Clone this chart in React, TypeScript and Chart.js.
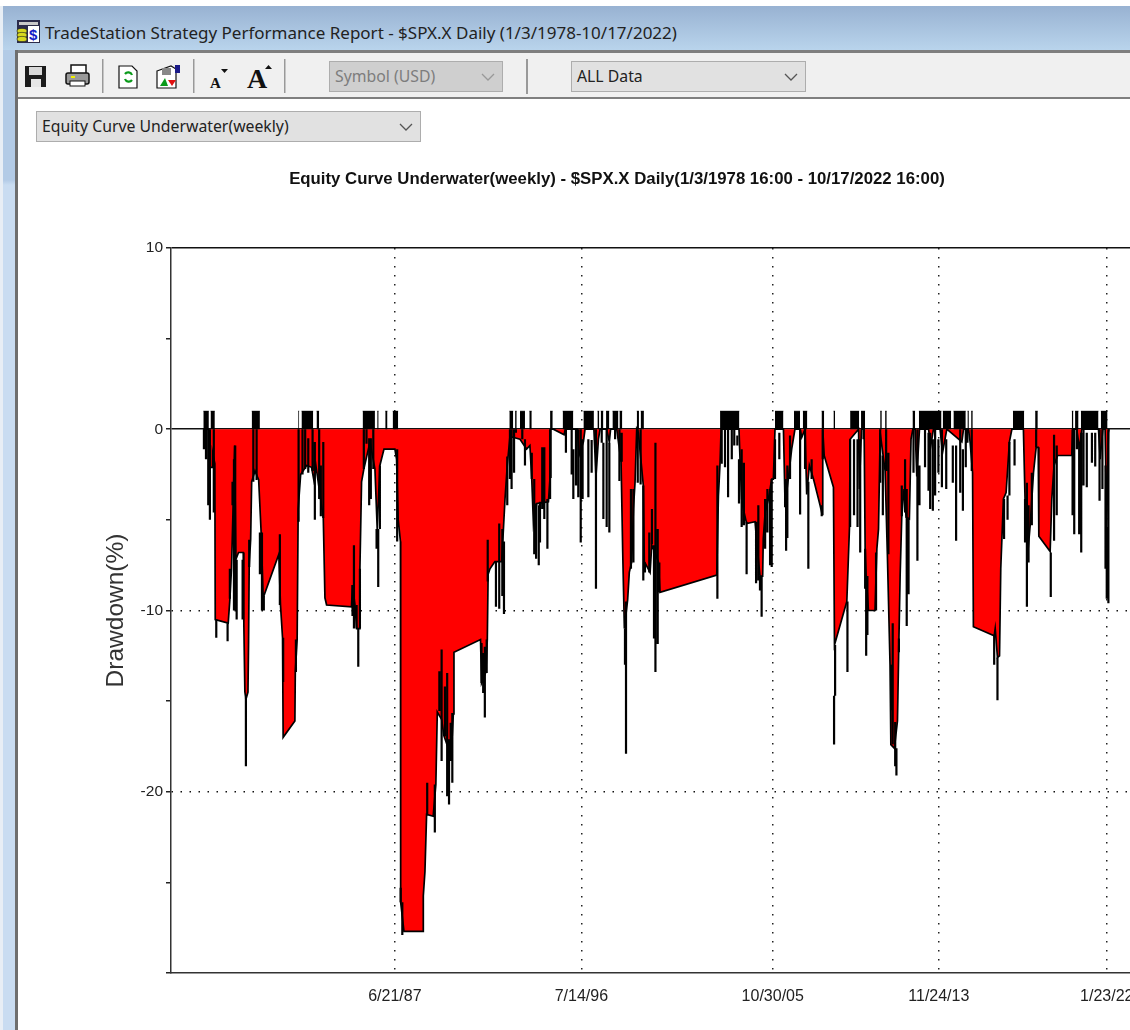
import React, { useEffect, useRef } from "react";
import { Chart, registerables } from "chart.js";

Chart.register(...registerables);

const chartTitle = "Equity Curve Underwater(weekly) - $SPX.X Daily(1/3/1978 16:00 - 10/17/2022 16:00)";
const windowTitle = "TradeStation Strategy Performance Report - $SPX.X Daily (1/3/1978-10/17/2022)";
const yAxisTitle = "Drawdown(%)";
const yLabelled = [10, 0, -10, -20];
const dateTickYears = [1987.47, 1996.53, 2005.83, 2013.9, 2022.06];
const dateTickLabels = ["6/21/87", "7/14/96", "10/30/05", "11/24/13", "1/23/22"];

// Outer envelope of the underwater curve: [year, drawdown %]
const envelope: [number, number][] = [
  [1978.16, 0], [1978.42, 0], [1978.45, -2.1], [1978.59, -2.1], [1978.61, -1.3], [1978.72, -1.9], [1978.74, -10.5],
  [1979.37, -10.7], [1979.45, -9.4], [1979.53, -7.7], [1979.61, -4.2], [1979.68, -0.9], [1979.74, -7.2], [1979.87, -6.8],
  [1980.1, -6.8], [1980.13, -10.8], [1980.18, -14.5], [1980.23, -14.9], [1980.33, -14.5], [1980.36, -11.7], [1980.39, -7.5],
  [1980.46, -6.1], [1980.51, -2.9], [1980.67, -2.3], [1980.85, -2.8], [1980.97, -5.7], [1981.07, -9.3], [1981.83, -6.9],
  [1981.91, -9.7], [1982.01, -11.5], [1982.04, -17], [1982.61, -16.1], [1982.63, -13.4], [1982.72, -11.6], [1982.77, -4.4],
  [1982.89, -2.5], [1983.18, -2], [1983.42, -2.1], [1983.53, -2.8], [1983.63, -2], [1983.99, -4.9], [1984.07, -9.3],
  [1984.15, -9.7], [1985.36, -9.8], [1985.41, -8.6], [1985.53, -9.7], [1985.61, -11], [1985.74, -11], [1985.77, -7.7],
  [1985.85, -2.9], [1985.96, -2.2], [1986.26, -0.7], [1986.5, -2.2], [1986.61, -5.5], [1986.74, -2], [1986.94, -1.1],
  [1987.47, -1.1], [1987.55, -1.65], [1987.63, -5], [1987.74, -6.2], [1987.75, -26.1], [1987.91, -27.7], [1988.85, -27.7],
  [1988.85, -25.75], [1988.93, -24.4], [1989.01, -21.25], [1989.33, -21.35], [1989.46, -19.6], [1989.53, -15.6],
  [1989.74, -16], [1989.85, -16.9], [1990.06, -17.6], [1990.22, -17.7], [1990.31, -15.7], [1990.34, -12.3], [1991.63, -11.6],
  [1991.68, -14], [1991.89, -13.4], [1991.96, -11.6], [1992, -8], [1992.09, -7.7], [1992.33, -7.3], [1992.66, -7.3],
  [1992.82, -3.85], [1992.93, -2], [1993.06, -0.4], [1993.55, -0.55], [1993.87, -1.1], [1994.03, -0.9], [1994.12, -2.75],
  [1994.2, -5.2], [1994.36, -4.1], [1994.93, -4], [1995.01, -2.65], [1995.05, 0], [1995.17, 0], [1995.69, -0.3], [1995.75, 0],
  [1996.33, 0], [1996.43, -1.4], [1996.63, -0.7], [1996.71, 0], [1997.14, 0], [1997.24, -2.6], [1997.36, -0.55], [1997.44, 0],
  [1997.76, 0], [1997.89, -0.7], [1997.95, 0], [1998.25, 0], [1998.46, -1.8], [1998.54, -6.8], [1998.62, -11], [1998.78, -9.4],
  [1998.86, -7.9], [1998.98, -7.3], [1999.06, -4.4], [1999.14, -2.9], [1999.22, 0], [1999.3, -0.2], [1999.54, -3.1],
  [1999.59, -7.3], [1999.87, -7.9], [1999.95, -6.4], [2000.03, -6.6], [2000.27, -7.3], [2000.35, -9], [2003.11, -8.05],
  [2003.19, -3.7], [2003.27, -1.85], [2003.32, 0], [2004.19, 0], [2004.24, -1.65], [2004.32, -3.85], [2004.4, -4.4],
  [2004.56, -5.2], [2004.97, -5.1], [2005.05, -6.2], [2005.21, -8.1], [2005.34, -8.1], [2005.37, -6.05], [2005.46, -4.6],
  [2005.62, -3.85], [2005.78, -2.75], [2005.86, -2.75], [2005.94, 0], [2006.35, 0], [2006.43, -4.2], [2006.6, -2.6],
  [2006.75, -1.1], [2006.91, 0], [2007.16, 0], [2007.24, -0.45], [2007.4, 0], [2007.48, -3.6], [2007.61, -2], [2007.81, -2.75],
  [2008.13, -4.2], [2008.23, -4.7], [2008.26, 0], [2008.33, -1.45], [2008.78, -3.2], [2008.83, -11.9], [2009.43, -9.5],
  [2009.56, -5.4], [2009.59, -0.55], [2010, 0], [2010.04, -3.3], [2010.14, 0], [2010.27, 0], [2010.32, -6.6], [2010.37, -8.1],
  [2010.48, -10], [2010.8, -10], [2010.89, -6.6], [2010.97, -5.5], [2011.05, -0.2], [2011.29, -2.3], [2011.4, -6.9],
  [2011.53, -13], [2011.57, -17.4], [2011.74, -17.6], [2011.89, -16.1], [2011.95, -12.3], [2012.02, -8.1], [2012.1, -4.8],
  [2012.21, -3.3], [2012.31, -4.85], [2012.47, -4.95], [2012.55, -0.55], [2012.64, 0], [2012.75, 0], [2012.83, -2.6],
  [2012.96, 0], [2013.4, 0], [2013.51, -0.9], [2013.64, 0], [2013.96, 0], [2014.08, -1.3], [2014.29, 0], [2015.02, -0.7],
  [2015.1, 0], [2015.34, 0], [2015.42, -0.7], [2015.54, -2.4], [2015.58, -10.9], [2016.59, -11.4], [2016.64, -11], [2016.75, -12.6],
  [2016.85, -12.5], [2016.91, -7.7], [2017.04, -3.85], [2017.17, -3.5], [2017.33, -0.7], [2017.45, 0], [2018.01, 0],
  [2018.09, -3.85], [2018.21, -7], [2018.34, -5.3], [2018.5, -2.4], [2018.63, -1], [2018.73, -1], [2018.76, -5.9],
  [2019.31, -6.75], [2019.39, -3.85], [2019.5, -2], [2019.67, -1.45], [2020.36, -1.45], [2020.41, 0], [2020.6, 0],
  [2020.74, -1.1], [2020.85, 0], [2021.66, 0], [2021.74, -1.65], [2021.87, 0], [2021.98, 0], [2022.06, -5.4], [2022.14, -0.2], [2022.17, 0],
];

// Weeks at a new equity high, drawn up to +1: [first year, last year]
const newHighTop = 1;
const newHighSpans: [number, number][] = [
  [1978.16, 1978.43], [1978.51, 1978.72], [1980.51, 1980.91], [1982.77, 1982.82], [1982.93, 1983.5], [1983.66, 1983.79],
  [1985.9, 1986.5], [1986.61, 1986.68], [1987, 1987.11], [1987.36, 1987.63], [1993.03, 1993.22], [1993.31, 1993.39],
  [1993.55, 1993.79], [1994, 1994.12], [1995.01, 1995.14], [1995.62, 1996.14], [1996.63, 1997.14], [1997.31, 1997.4],
  [1997.47, 1997.6], [1997.73, 1997.89], [1998.04, 1998.33], [1998.38, 1998.52], [1999.22, 1999.33], [1999.41, 1999.57],
  [2003.27, 2004.21], [2005.94, 2006.35], [2006.86, 2007.16], [2007.29, 2007.51], [2008.2, 2008.33], [2008.78, 2008.86],
  [2009.59, 2010.03], [2010.12, 2010.32], [2011.05, 2011.13], [2011.29, 2011.37], [2012.62, 2012.75], [2012.93, 2014.03],
  [2014.09, 2014.5], [2014.61, 2015.21], [2015.29, 2015.36], [2015.47, 2015.55], [2017.5, 2018.05], [2018.58, 2018.71],
  [2020.36, 2020.44], [2020.52, 2020.69], [2020.8, 2021.66], [2021.77, 2022.1],
];

// Weekly excursions: [year, upper %, lower %]
const excursions: [number, number, number][] = [
  [1978.19, 0, -1.1], [1978.29, 0, -1.65], [1978.4, 0, -4.2], [1978.48, 0, -5], [1978.67, 0, -4.6], [1978.79, -10.5, -11.5],
  [1979.34, -10.7, -11.7], [1979.45, -7.7, -9.35], [1979.58, -2.9, -4.2], [1979.65, -1.65, -10], [1979.71, -0.9, -10],
  [1979.78, -7.2, -10.5], [1980.07, -7.2, -10.5], [1980.23, -14.8, -18.6], [1980.39, -6.1, -7.6], [1980.59, 0, -2.9],
  [1980.75, 0, -2.8], [1980.91, -5.7, -8], [1981.01, -5.7, -10], [1981.1, -9.2, -10], [1981.88, -5.8, -9.7],
  [1982.04, -11.5, -13.95], [1982.66, -11.6, -13.4], [1982.79, 0, -5.1], [1982.98, 0, -2.5], [1983.11, 0, -2.2],
  [1983.26, -0.5, -2.4], [1983.47, 0, -2.3], [1983.58, -0.7, -5], [1983.79, 0, -3.85], [1983.87, -2, -4.8], [1983.99, -0.7, -4.9],
  [1985.41, -8.6, -10.3], [1985.48, -6.4, -11], [1985.61, -9.7, -11], [1985.69, -11, -13.1], [1985.77, -7.7, -11],
  [1985.96, 0, -2.2], [1986.09, 0, -0.8], [1986.22, -0.5, -4.2], [1986.3, -0.5, -3.85], [1986.42, 0, -2.2], [1986.58, -5.5, -6.6],
  [1986.66, -5.5, -8.7], [1986.74, -2, -5.5], [1987.58, -1.1, -6.2], [1987.75, -25.3, -26.1], [1987.83, -26.1, -27.9],
  [1989.04, -19.5, -21.25], [1989.41, -19.6, -22.25], [1989.63, -13.35, -15.55], [1989.74, -12.15, -18.3], [1989.9, -14.2, -16.95],
  [1990.01, -13.45, -20.25], [1990.1, -17.1, -20.7], [1990.18, -16.2, -18.3], [1990.26, -15.65, -19.5], [1991.68, -11.8, -14],
  [1991.76, -12.35, -14.55], [1991.84, -12, -15.9], [1991.93, -11.6, -13.45], [1991.98, -6.1, -8.4], [1992.38, -7.3, -9.8],
  [1992.54, -5.2, -9.9], [1992.69, -5.5, -9.2], [1992.77, -6.2, -10.2], [1992.93, -1.5, -4.2], [1993.06, 0, -2.75],
  [1993.14, 0, -3.3], [1993.26, 0, -2.4], [1993.35, 0, -0.2], [1993.66, 0, -0.55], [1993.79, -0.55, -2], [1994.12, -1.3, -2.75],
  [1994.24, -2.75, -6.9], [1994.33, -4.1, -7.15], [1994.46, -4.2, -7.5], [1994.52, -4, -6.25], [1994.63, -1, -4.4],
  [1994.73, -1, -4.95], [1994.88, -3.85, -6.6], [1995.01, 0, -3.85], [1995.78, 0, -1.3], [1996.06, 0, -2.5], [1996.14, -1.1, -3.85],
  [1996.27, 0, -3.1], [1996.38, 0, -3.75], [1996.5, 0, -6.25], [1996.59, -0.55, -3.85], [1996.87, -0.55, -3.75],
  [1997.03, -0.6, -2.4], [1997.24, 0, -8.8], [1997.52, 0, -0.75], [1997.6, -0.75, -4.95], [1997.76, 0, -5.4], [1997.89, -0.75, -5.7],
  [1998.17, 0, -0.55], [1998.38, 0, -2.85], [1998.49, -0.2, -1.8], [1998.65, -11, -13], [1998.7, -9.5, -17.9], [1998.94, -3.3, -7.7],
  [1999.06, -3.3, -7.35], [1999.27, 0, -2.95], [1999.41, 0, -3.05], [1999.54, -3.1, -8.35], [1999.62, -7.35, -7.9],
  [1999.83, -5.7, -7.9], [1999.96, -4.4, -6.35], [2000.06, -6.4, -11.55], [2000.13, -0.75, -13.4], [2000.24, -5.5, -11.85],
  [2000.32, -7.35, -9], [2003.14, -2, -9.35], [2003.35, 0, -1.9], [2003.51, 0, -2.1], [2003.66, 0, -3.75], [2003.84, 0, -1.65],
  [2003.96, 0, -0.9], [2004.11, -0.35, -0.9], [2004.19, -1.65, -4.1], [2004.32, -1.1, -5.4], [2004.43, -1.85, -5.3],
  [2004.56, -5.1, -8], [2005.02, -5.1, -8.5], [2005.13, -4.2, -8.35], [2005.21, -8.1, -8.9], [2005.29, -8.1, -10.35],
  [2005.46, -3.85, -6.6], [2005.57, -3.3, -5.7], [2005.7, -3.3, -7.5], [2005.78, -2.75, -7.6], [2005.94, -0.55, -2.75],
  [2006.15, -0.2, -1.65], [2006.43, -2.75, -4.3], [2006.48, -2.9, -6.7], [2006.54, -2, -6], [2006.67, -0.35, -2.75],
  [2007.16, 0, -4.7], [2007.4, 0, -2.2], [2007.56, -2.9, -7.7], [2007.72, -1.65, -2.75], [2008.21, -4.2, -4.8], [2008.26, 0, -1.65],
  [2008.86, -11.9, -14.7], [2008.81, -14.7, -17.4], [2009.46, -9.5, -13.4], [2009.59, -0.55, -5.4], [2009.78, -0.55, -4.75],
  [2009.95, -0.55, -5.4], [2010.08, -0.55, -6.8], [2010.24, 0, -0.55], [2010.32, -6.6, -8.8], [2010.37, -8.1, -12.5],
  [2010.43, -8.1, -11.35], [2010.85, -6.8, -10], [2011.05, 0, -2.95], [2011.18, -1.45, -4.75], [2011.34, 0, -2.3],
  [2011.45, -1.3, -6.9], [2011.61, -13, -15.5], [2011.66, -10.7, -17.4], [2011.78, -16.15, -18.6], [2011.84, -17.6, -19.1],
  [2011.96, -11.55, -12.3], [2012.1, -3.1, -4.8], [2012.26, -1.65, -4.6], [2012.34, -3.3, -10.85], [2012.43, -4.95, -9.1],
  [2012.67, 0, -2.4], [2012.86, 0, -7.25], [2012.96, -2, -4.2], [2013.23, 0, -2.1], [2013.4, -0.2, -3.4], [2013.48, -0.2, -4.4],
  [2013.61, -0.55, -4.5], [2013.72, 0, -3.65], [2013.88, -0.55, -2.4], [2014.05, 0, -3.2], [2014.26, -0.55, -3.3],
  [2014.58, -0.9, -2.95], [2014.74, -0.9, -6.15], [2014.94, 0, -3.5], [2015.07, -1.1, -4.5], [2015.21, 0, -2.1], [2015.29, 0, -0.75],
  [2015.5, 0, -2.3], [2016.59, -11.4, -13], [2016.75, -12.6, -14.95], [2017.07, -3.85, -6.05], [2017.24, -3.65, -5],
  [2017.33, -0.7, -3.65], [2017.58, -0.55, -2], [2018.09, -3.85, -6.25], [2018.18, -2.95, -9.8], [2018.26, -4.2, -7.35],
  [2018.42, -2.4, -5.3], [2018.63, 0, -1], [2019.34, -6.8, -9.25], [2019.5, -0.3, -6.15], [2019.63, -0.9, -4.75], [2020.4, 0, -4.75],
  [2020.48, 0, -5.8], [2020.61, 0, -1.1], [2020.72, -0.75, -5.8], [2020.82, -0.2, -6.8], [2020.93, 0, -3.1], [2021.09, -0.2, -3.2],
  [2021.34, -0.2, -1.85], [2021.5, -0.2, -2.05], [2021.71, 0, -3.95], [2021.85, 0, -3.3], [2022, -2, -7.7], [2022.06, -5.4, -9.35],
  [2022.14, 0, -9.6],
];

const UI_FONT = '"Noto Sans", "Open Sans", sans-serif';
const ARIAL = '"Liberation Sans", Arial, sans-serif';
const DOTS = [1.5, 7.5];

const abs = (left: number, top: number, width: number, height: number, extra: React.CSSProperties = {}): React.CSSProperties => ({
  position: "absolute", left, top, width, height, boxSizing: "border-box", ...extra,
});

function Combo({ left, top, width, height, text, disabled, fontSize = 15.8 }: any) {
  return (
    <div style={abs(left, top, width, height, {
      background: disabled ? "#cfcfcf" : "#e1e1e1", border: "1px solid #adadad",
      color: disabled ? "#7d7d7d" : "#222", fontFamily: UI_FONT, fontSize, lineHeight: `${height - 2}px`, paddingLeft: 5, whiteSpace: "nowrap",
    })}>
      {text}
      <svg width="14" height="10" style={{ position: "absolute", right: 7, top: (height - 12) / 2 }}>
        <polyline points="1,2 7,8 13,2" fill="none" stroke={disabled ? "#999" : "#555"} strokeWidth="1.3" />
      </svg>
    </div>
  );
}

function Toolbar() {
  return (
    <svg width="300" height="44" style={{ position: "absolute", left: 0, top: 53 }}>
      {/* floppy */}
      <rect x="25" y="13" width="21" height="21" fill="#1c1c1c" />
      <rect x="29" y="14" width="13" height="8" fill="#d8d8d8" />
      <rect x="31" y="26" width="10" height="8" fill="#e6e6e6" />
      {/* printer */}
      <rect x="71" y="12" width="15" height="9" fill="#fff" stroke="#111" strokeWidth="1.5" />
      <rect x="66" y="20" width="23" height="11" rx="2" fill="#999" stroke="#111" strokeWidth="1.5" />
      <rect x="70" y="28" width="15" height="5" fill="#fff" stroke="#111" />
      <rect x="71" y="23" width="4" height="2" fill="#ee0" />
      {/* separators */}
      <rect x="102" y="6" width="1.5" height="34" fill="#999" />
      <rect x="193" y="6" width="1.5" height="34" fill="#999" />
      <rect x="284" y="6" width="1.5" height="34" fill="#999" />
      {/* refresh document */}
      <path d="M119 13h13l5 5v17h-18z" fill="#fff" stroke="#111" strokeWidth="1.2" />
      <path d="M125 21a4 4 0 0 1 7 1M132 27a4 4 0 0 1-7-1" fill="none" stroke="#0a9a1a" strokeWidth="2.2" />
      {/* report */}
      <path d="M157 18l14-5 5 3v19h-19z" fill="#fff" stroke="#111" strokeWidth="1.2" />
      <polygon points="160,33 165,25 168,33" fill="#0a9a1a" />
      <polygon points="168,27 176,27 172,33" fill="#e01010" />
      <rect x="175" y="12" width="5" height="8" fill="#1a1a88" />
      <rect x="162" y="15" width="9" height="7" fill="#888" />
      {/* font arrows */}
      <polygon points="221,16 228,16 224.5,20" fill="#111" />
      <polygon points="265,16 272,16 268.5,12" fill="#111" />
      <text x="210" y="35" fontFamily='"Liberation Serif", serif' fontWeight="bold" fontSize="15" fill="#111">A</text>
      <text x="247" y="35" fontFamily='"Liberation Serif", serif' fontWeight="bold" fontSize="28" fill="#111">A</text>
    </svg>
  );
}

function TitleIcon() {
  return (
    <svg width="26" height="26" style={{ position: "absolute", left: 15, top: 19 }}>
      <rect x="2" y="1" width="23" height="23" fill="#2b2b4a" />
      <rect x="4" y="3" width="19" height="3" fill="#c8c8c8" />
      <rect x="13" y="7" width="11" height="16" fill="#fff" />
      <text x="14" y="21" fontFamily={ARIAL} fontWeight="bold" fontSize="15" fill="#1420c8">$</text>
      <ellipse cx="7" cy="12" rx="5" ry="2.6" fill="#d8d820" stroke="#222" strokeWidth=".6" />
      <ellipse cx="7" cy="16" rx="5" ry="2.6" fill="#d8d820" stroke="#222" strokeWidth=".6" />
      <ellipse cx="7" cy="20" rx="5" ry="2.6" fill="#d8d820" stroke="#222" strokeWidth=".6" />
    </svg>
  );
}

export default function App() {
  const ref = useRef<HTMLCanvasElement | null>(null);

  useEffect(() => {
    if (!ref.current) return;
    const toNull = (x: number) => ({ x, y: NaN });
    const chart = new Chart(ref.current, {
      type: "line",
      data: {
        datasets: [
          {
            label: "Underwater",
            data: envelope.map(([x, y]) => ({ x, y })),
            borderColor: "#000",
            borderWidth: 1.7,
            backgroundColor: "#ff0000",
            fill: "origin",
            pointRadius: 0,
            tension: 0,
            order: 3,
          },
          {
            label: "New highs",
            data: newHighSpans.flatMap(([a, b]) => [{ x: a, y: newHighTop }, { x: b, y: newHighTop }, toNull(b)]),
            borderColor: "#000",
            borderWidth: 0.5,
            backgroundColor: "#000",
            fill: "origin",
            pointRadius: 0,
            spanGaps: false,
            order: 2,
          },
          {
            label: "Excursions",
            data: excursions.flatMap(([x, hi, lo]) => [{ x, y: hi }, { x, y: lo }, toNull(x)]),
            borderColor: "#000",
            borderWidth: 2.2,
            pointRadius: 0,
            fill: false,
            spanGaps: false,
            order: 1,
          },
        ],
      },
      options: {
        animation: false,
        responsive: false,
        events: [],
        layout: { padding: 0 },
        plugins: {
          legend: { display: false },
          tooltip: { enabled: false },
          title: {
            display: true,
            text: chartTitle,
            color: "#111",
            font: { family: ARIAL, size: 16.8, weight: "bold", lineHeight: 1.2 },
            padding: { top: 9, bottom: 58.8 },
          },
        },
        scales: {
          x: {
            type: "linear",
            min: 1976.59,
            max: 2023.19,
            afterBuildTicks: (s: any) => { s.ticks = dateTickYears.map((value) => ({ value })); },
            afterFit: (s: any) => { s.height = 57; s.paddingRight = 0; s.paddingLeft = 0; },
            ticks: {
              autoSkip: false,
              maxRotation: 0,
              padding: 14,
              color: "#222",
              font: { family: ARIAL, size: 16 },
              callback: (v: any) => dateTickLabels[dateTickYears.indexOf(Number(v))] ?? "",
            },
            grid: { color: "#222", lineWidth: 1.5, drawTicks: false },
            border: { color: "#333", width: 1.5, dash: DOTS },
          },
          y: {
            type: "linear",
            min: -30,
            max: 10,
            afterFit: (s: any) => { s.width = 67; s.paddingTop = 0; },
            title: {
              display: true,
              text: yAxisTitle,
              color: "#333",
              font: { family: ARIAL, size: 24.5, lineHeight: 1 },
              padding: 0,
            },
            ticks: {
              stepSize: 5,
              padding: 3,
              color: "#222",
              font: { family: ARIAL, size: 15.5 },
              callback: (v: any) => (yLabelled.includes(Number(v)) ? String(v) : ""),
            },
            grid: {
              lineWidth: 1.5,
              tickLength: 5,
              tickColor: "#222",
              color: (c: any) => (c.tick && Number(c.tick.value) % 10 === 0 && c.tick.value !== -30 ? "#111" : "rgba(0,0,0,0)"),
            },
            border: {
              color: "#333",
              width: 1.5,
              dash: (c: any) => (c.tick && (c.tick.value === -10 || c.tick.value === -20) ? DOTS : []),
            },
          },
        },
      } as any,
    });
    return () => chart.destroy();
  }, []);

  return (
    <div style={{ position: "fixed", left: 0, top: 0, width: 1130, height: 1030, overflow: "hidden", background: "#fff" }}>
      {/* window frame */}
      <div style={abs(3, 6, 1127, 44, { background: "linear-gradient(#98b2d2,#b9d4ec)" })} />
      <div style={abs(3, 50, 12, 980, { background: "linear-gradient(#b3cbe6 0,#b3cbe6 130px,#c9dcf1 135px)" })} />
      <div style={abs(0, 6, 3, 1024, { background: "#e8eef5" })} />
      <TitleIcon />
      <div style={abs(45, 20, 700, 26, { fontFamily: UI_FONT, fontSize: 17, lineHeight: "26px", color: "#222", whiteSpace: "nowrap" })}>{windowTitle}</div>
      {/* toolbar */}
      <div style={abs(15, 50, 1115, 49, { background: "#f0f0f0", borderTop: "3px solid #7f7f7f", borderBottom: "2.5px solid #7f7f7f" })} />
      <div style={abs(15, 50, 3, 980, { background: "#6e6e6e" })} />
      <Toolbar />
      <Combo left={329} top={61} width={174} height={31} text="Symbol (USD)" disabled />
      <div style={abs(526, 59, 1.5, 35, { background: "#999" })} />
      <Combo left={571} top={61} width={235} height={31} text="ALL Data" />
      <Combo left={36} top={111} width={385} height={31} text="Equity Curve Underwater(weekly)" />
      <canvas ref={ref} width={1026} height={870} style={{ position: "absolute", left: 104, top: 160, width: 1026, height: 870 }} />
    </div>
  );
}
